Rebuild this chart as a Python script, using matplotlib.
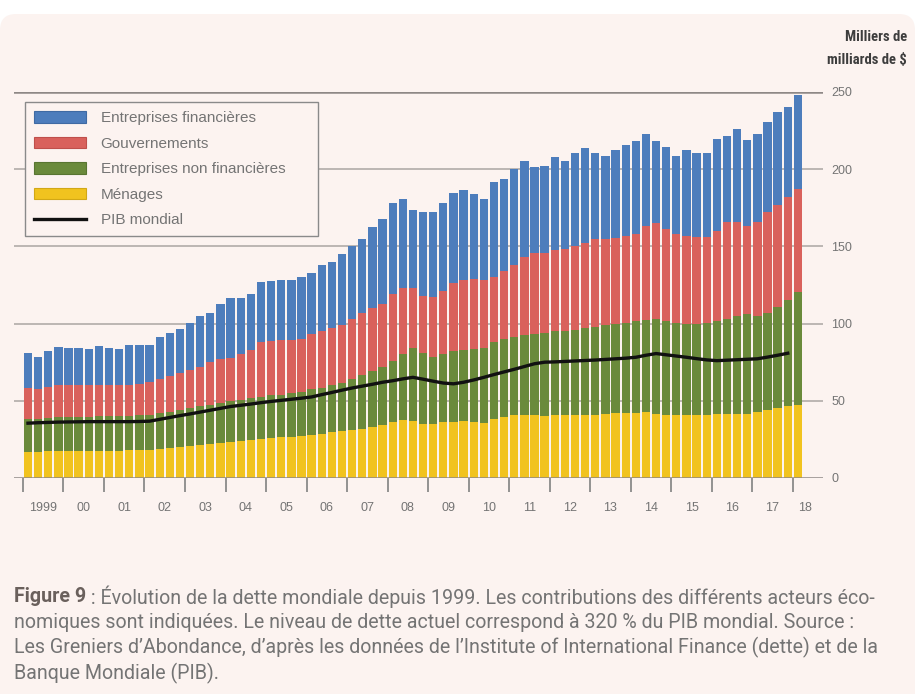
import numpy as np
import matplotlib
matplotlib.use("Agg")
import matplotlib.pyplot as plt
from matplotlib.patches import FancyBboxPatch, Patch
from matplotlib.lines import Line2D
from matplotlib import font_manager

# ---------------- data (quarterly, 1999 Q1 -> 2018 Q1), thousands of billions $
annees = ["1999", "00", "01", "02", "03", "04", "05", "06", "07", "08", "09",
          "10", "11", "12", "13", "14", "15", "16", "17", "18"]

# total debt (top of stack)
total_dette = [80.8, 78.6, 82.5, 84.7, 84.0, 84.0, 83.5, 85.5, 84.0, 83.5, 86.0, 86.0,
               86.0, 91.0, 93.8, 96.3,
               100.7, 104.6, 106.7, 112.8,
               116.4, 116.4, 119.0, 127.2,
               127.9, 128.0, 128.3, 130.0,
               133.0, 138.0, 139.6, 145.0,
               150.0, 154.7, 162.5, 167.6,
               178.0, 180.6, 173.3, 172.6,
               172.0, 178.4, 184.5, 186.6,
               184.0, 180.6, 191.4, 193.6,
               200.0, 205.4, 201.4, 201.8,
               207.8, 205.0, 210.8, 213.6,
               210.8, 208.7, 212.6, 215.8,
               218.0, 223.0, 218.0, 214.3,
               208.7, 212.6, 210.8, 210.8,
               219.5, 221.2, 226.0, 218.7,
               223.0, 230.3, 236.8, 240.2,
               248.2]

# cumulated level: households + non-financial corporates + governments
cumul_gouvernements = [58, 57.5, 59, 60, 60, 60, 60.5, 60.5, 60, 60, 60.5, 61,
                       62, 64, 66, 68,
                       70, 72, 75, 77,
                       78, 80, 83, 88,
                       89, 89.5, 89.5, 90,
                       93, 95, 97, 99,
                       103, 107, 110, 113,
                       119, 123, 123, 118,
                       117, 121, 126, 128,
                       129, 128, 130, 134,
                       138, 143, 145.5, 146,
                       147.5, 148, 150, 152,
                       154.5, 155, 155.5, 156.5,
                       158, 163, 165, 161,
                       158, 157, 156, 156,
                       160, 166, 166, 163,
                       166, 172, 177, 182,
                       187]

# cumulated level: households + non-financial corporates
cumul_non_financieres = [38.5, 38.5, 39.0, 39.3, 39.5, 39.5, 39.8, 40.0, 40.0, 40.0, 40.2, 40.5,
                         41.0, 42.0, 43.0, 44.0,
                         45.5, 46.5, 47.5, 48.5,
                         50.0, 50.5, 51.5, 52.5,
                         53.5, 54.0, 55.0, 56.0,
                         57.5, 58.5, 60.0, 61.5,
                         64.0, 66.5, 69.0, 72.0,
                         76.0, 80.0, 84.0, 81.0,
                         78.5, 80.0, 82.0, 83.0,
                         83.5, 84.0, 88.0, 90.0,
                         91.0, 92.5, 93.0, 94.0,
                         95.0, 95.5, 96.0, 97.0,
                         98.0, 99.0, 100.0, 100.5,
                         101.5, 102.5, 103.0, 101.5,
                         100.5, 100.0, 100.0, 100.5,
                         102.0, 103.0, 105.0, 106.5,
                         105.0, 107.0, 111.0, 115.0,
                         120.5]

# households
menages = [17.0, 17.0, 17.2, 17.3, 17.4, 17.5, 17.5, 17.6, 17.7, 17.8, 17.9, 18.0,
           18.3, 18.8, 19.3, 19.8,
           20.5, 21.2, 21.8, 22.5,
           23.3, 24.0, 24.6, 25.2,
           25.8, 26.3, 26.8, 27.3,
           28.0, 28.8, 29.5, 30.3,
           31.0, 32.0, 33.2, 34.5,
           36.5, 37.6, 37.0, 35.0,
           35.0, 36.0, 36.5, 37.0,
           36.5, 35.5, 38.5, 39.5,
           40.5, 41.0, 40.5, 40.0,
           40.5, 41.0, 41.0, 40.8,
           41.0, 41.5, 42.0, 42.0,
           42.0, 42.5, 41.5, 41.0,
           40.5, 40.5, 40.5, 41.0,
           41.5, 41.5, 41.5, 41.5,
           42.5, 44.0, 45.5, 46.5,
           47.5]

# world GDP (1999 Q1 -> 2017 Q4)
pib_mondial = [35.5, 35.8, 36.0, 36.2, 36.3, 36.4, 36.5, 36.5, 36.5, 36.5, 36.5, 36.6,
               36.8, 38.0, 39.2, 40.4,
               41.5, 42.7, 43.9, 45.1,
               46.3, 47.1, 47.9, 48.8,
               49.6, 50.3, 51.0, 51.7,
               52.5, 54.0, 55.4, 56.9,
               58.3, 59.5, 60.7, 62.0,
               63.0, 64.2, 65.2, 64.0,
               62.7, 61.5, 61.0, 62.0,
               63.5, 65.2, 67.0, 68.7,
               70.4, 72.2, 74.0, 75.0,
               75.2, 75.5, 75.8, 76.1,
               76.4, 76.8, 77.2, 77.6,
               78.2, 79.5, 80.6, 79.8,
               79.0, 78.2, 77.3, 76.5,
               76.0, 76.3, 76.6, 76.9,
               77.2, 78.3, 79.5, 80.8]

series_labels = ["Entreprises financières", "Gouvernements",
                 "Entreprises non financières", "Ménages", "PIB mondial"]

# ---------------- fonts
_names = {f.name for f in font_manager.fontManager.ttflist}


def pick(cands, default):
    for c in cands:
        if c in _names:
            return c
    return default


SANS = pick(["Liberation Sans"], "DejaVu Sans")
COND = pick(["Roboto Condensed", "Liberation Sans Narrow", "DejaVu Sans Condensed"], None)
CAPF = pick(["Roboto", "Lato"], "DejaVu Sans")
TITF = COND if COND else SANS

BG = "#fcf3f0"
C_BLUE, C_RED, C_GREEN, C_YEL = "#4d7dbc", "#d9615c", "#6a8a3b", "#f1c31f"
GRID = "#aaa5a3"
TXT = "#747474"

W, H = 915, 694
fig = plt.figure(figsize=(W / 100, H / 100), dpi=100, facecolor="white")

# background card
bg = fig.add_axes([0, 0, 1, 1])
bg.set_xlim(0, W)
bg.set_ylim(H, 0)
bg.axis("off")
bg.add_patch(FancyBboxPatch((0, 14), W, H + 20, boxstyle="round,pad=0,rounding_size=16",
                            fc=BG, ec="none"))

# main axes
ax = fig.add_axes([14 / W, (H - 478) / H, 809 / W, 386 / H])
ax.set_facecolor("none")
for s in ax.spines.values():
    s.set_visible(False)

n = len(total_dette)
x = np.arange(n)
hh = np.array(menages)
nf = np.array(cumul_non_financieres) - hh
gv = np.array(cumul_gouvernements) - np.array(cumul_non_financieres)
fi = np.array(total_dette) - np.array(cumul_gouvernements)

for v in [50, 100, 150, 200]:
    ax.axhline(v, color=GRID, lw=1.1, zorder=0)
ax.axhline(250, color="#8e8886", lw=1.8, zorder=0)

bw = 0.82
ax.bar(x, hh, width=bw, color=C_YEL, zorder=2, linewidth=0)
ax.bar(x, nf, bottom=hh, width=bw, color=C_GREEN, zorder=2, linewidth=0)
ax.bar(x, gv, bottom=hh + nf, width=bw, color=C_RED, zorder=2, linewidth=0)
ax.bar(x, fi, bottom=hh + nf + gv, width=bw, color=C_BLUE, zorder=2, linewidth=0)
ax.plot(np.arange(len(pib_mondial)), pib_mondial, color="#111111", lw=2.4, zorder=4,
        solid_joinstyle="round")
ax.axhline(0, color="#8e8886", lw=1.8, zorder=5)

ax.set_xlim(-1.38, 78.48)
ax.set_ylim(0, 250)

# x ticks: year boundaries (major), year labels (minor)
ax.set_xticks(np.arange(len(annees)) * 4 - 0.5)
ax.set_xticklabels([""] * len(annees))
ax.tick_params(axis="x", which="major", length=10, width=1.3, color="#8a8a8a", direction="out")
lab_pos = list(np.arange(len(annees) - 1) * 4 + 1.5) + [76.7]
ax.set_xticks(lab_pos, minor=True)
ax.set_xticklabels(annees, minor=True, fontfamily=SANS, fontsize=9, color=TXT)
ax.tick_params(axis="x", which="minor", length=0, pad=17)

ax.yaxis.tick_right()
ax.set_yticks([0, 50, 100, 150, 200, 250])
ax.set_yticklabels(["0", "50", "100", "150", "200", "250"], fontfamily=SANS,
                   fontsize=9, color=TXT)
ax.tick_params(axis="y", length=0, pad=6)

# legend
handles = [Patch(facecolor=C_BLUE, edgecolor="#3f6aa3", lw=0.8),
           Patch(facecolor=C_RED, edgecolor="#bf4f4b", lw=0.8),
           Patch(facecolor=C_GREEN, edgecolor="#587531", lw=0.8),
           Patch(facecolor=C_YEL, edgecolor="#d2a816", lw=0.8),
           Line2D([], [], color="#111111", lw=2.4)]
leg = ax.legend(handles, series_labels, loc="upper left",
                bbox_to_anchor=(25 / W, 1 - 240 / H, 293 / W, 138 / H),
                bbox_transform=fig.transFigure, mode="expand", borderaxespad=0,
                prop={"family": SANS, "size": 11}, labelcolor=TXT,
                frameon=True, fancybox=False, edgecolor="#8a8a8a", facecolor=BG,
                framealpha=1, handlelength=3.4, handleheight=0.8, handletextpad=0.95,
                labelspacing=0.74, borderpad=0.6)
leg.get_frame().set_linewidth(1.0)
leg.set_zorder(6)

# unit label
fig.text(907 / W, 1 - 37 / H, "Milliers de", ha="right", va="center",
         fontfamily=TITF, fontweight="bold", fontsize=10.5, color="#3d3d3d")
fig.text(907 / W, 1 - 60 / H, "milliards de $", ha="right", va="center",
         fontfamily=TITF, fontweight="bold", fontsize=10.5, color="#3d3d3d")

# caption
cap_lines = [" : Évolution de la dette mondiale depuis 1999. Les contributions des différents acteurs éco-",
             "nomiques sont indiquées. Le niveau de dette actuel correspond à 320 % du PIB mondial. Source :",
             "Les Greniers d’Abondance, d’après les données de l’Institute of International Finance (dette) et de la",
             "Banque Mondiale (PIB)."]
cap_y = [597, 622, 647, 673]
renderer = fig.canvas.get_renderer()
probe = fig.text(0, 0, cap_lines[2], fontfamily=CAPF, fontsize=12)
wpx = probe.get_window_extent(renderer=renderer).width
probe.remove()
fs = 12 * 862 / wpx

fig_lbl = fig.text(14 / W, 1 - cap_y[0] / H, "Figure 9", ha="left", va="center",
                   fontfamily=CAPF, fontweight="bold", fontsize=fs, color="#6a605c")
bb = fig_lbl.get_window_extent(renderer=renderer)
fig.text(bb.x1 / W, 1 - cap_y[0] / H, cap_lines[0], ha="left", va="center",
         fontfamily=CAPF, fontsize=fs, color=TXT)
for line, yy in zip(cap_lines[1:], cap_y[1:]):
    fig.text(14 / W, 1 - yy / H, line, ha="left", va="center",
             fontfamily=CAPF, fontsize=fs, color=TXT)

fig.savefig("out.png", dpi=100, facecolor="white")
